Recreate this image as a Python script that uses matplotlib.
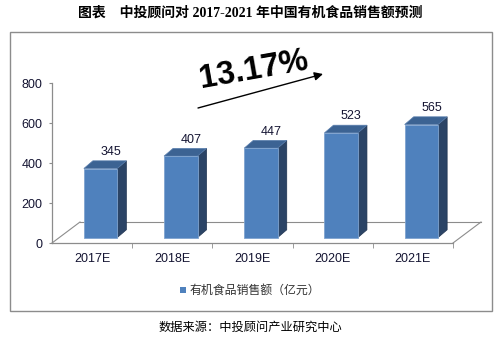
import matplotlib
matplotlib.use("Agg")
import matplotlib.pyplot as plt
from matplotlib.patches import Rectangle, Polygon, FancyArrowPatch
from matplotlib.lines import Line2D

# Data
categories = ["2017E", "2018E", "2019E", "2020E", "2021E"]
sales = [345, 407, 447, 523, 565]
yticks = [0, 200, 400, 600, 800]
growth_label = "13.17%"
series_name = "有机食品销售额（亿元）"
title = "图表\u3000中投顾问对 2017-2021 年中国有机食品销售额预测"
source = "数据来源：中投顾问产业研究中心"

W, H = 503, 345
fig = plt.figure(figsize=(W / 100, H / 100), dpi=100)
fig.patch.set_facecolor("white")


def fp(x, y):
    """Pixel position (from top-left) to figure fraction."""
    return x / W, 1 - y / H


# plot area in pixels
ax_l, ax_r, ax_t, ax_b = 52, 453, 83, 243
ax = fig.add_axes([ax_l / W, (H - ax_b) / H, (ax_r - ax_l) / W, (ax_b - ax_t) / H])
ax.set_xlim(-0.5, len(categories) - 0.5)
ax.set_ylim(0, 800)
ax.patch.set_alpha(0)

ux = len(categories) / (ax_r - ax_l)   # category units per pixel
uy = 800 / (ax_b - ax_t)               # value units per pixel

for s in ["top", "right"]:
    ax.spines[s].set_visible(False)
for s in ["left", "bottom"]:
    ax.spines[s].set_color("#8c8c8c")
    ax.spines[s].set_linewidth(0.9)

ax.set_yticks(yticks)
ax.tick_params(axis="y", length=2.5, color="#8c8c8c", pad=4.5,
               labelsize=9, labelcolor="#141432")
ax.set_xticks(range(len(categories)))
ax.set_xticklabels(categories)
ax.set_xticks([i + 0.5 for i in range(len(categories))], minor=True)
ax.tick_params(axis="x", which="major", length=0, pad=7,
               labelsize=9, labelcolor="#141432")
ax.tick_params(axis="x", which="minor", length=3.5, color="#8c8c8c")
for lab in ax.get_xticklabels() + ax.get_yticklabels():
    lab.set_fontfamily("Liberation Sans")

# floor outline
fdx, fdy = 28 * ux, 21 * uy
x0, x1 = -0.5, len(categories) - 0.5
floor_kw = dict(color="#8c8c8c", lw=0.8, clip_on=False, zorder=1)
ax.add_line(Line2D([x0 + fdx, x1 + fdx], [fdy, fdy], **floor_kw))
ax.add_line(Line2D([x0, x0 + fdx], [0, fdy], **floor_kw))
ax.add_line(Line2D([x1, x1 + fdx], [0, fdy], **floor_kw))

# 3D bars
front_c, side_c, top_c, edge_c = "#4F81BD", "#2B4466", "#3C6393", "#7FA3CF"
bw = 33.5 * ux
ox, oy = 8.5 * ux, 5.5 * uy      # front face offset into depth
ddx, ddy = 9 * ux, 7.7 * uy      # bar depth
for i, v in enumerate(sales):
    bx0 = i - bw / 2 + ox
    bx1 = bx0 + bw
    b0 = oy
    tp = oy + v
    ax.add_patch(Polygon([(bx1, b0), (bx1 + ddx, b0 + ddy), (bx1 + ddx, tp + ddy), (bx1, tp)],
                         closed=True, fc=side_c, ec="#1f3350", lw=0.5, clip_on=False, zorder=3))
    ax.add_patch(Polygon([(bx0, tp), (bx1, tp), (bx1 + ddx, tp + ddy), (bx0 + ddx, tp + ddy)],
                         closed=True, fc=top_c, ec="#5a7fae", lw=0.5, clip_on=False, zorder=3))
    ax.add_patch(Rectangle((bx0, b0), bw, v, fc=front_c, ec=edge_c, lw=0.6,
                           clip_on=False, zorder=4))
    ax.text(i + 18.5 * ux, tp + 16.5 * uy, str(v), ha="center", va="center",
            fontsize=9, family="Liberation Sans", color="#141432", zorder=5)

# border
bx, by = fp(9.5, 311)
fig.add_artist(Rectangle((bx, by), 482 / W, 279.5 / H, transform=fig.transFigure,
                         fill=False, ec="#8c8c8c", lw=1))

# title
fig.text(*fp(250, 12.5), title, ha="center", va="center", fontsize=10,
         fontweight="bold", family=["Liberation Serif", "Noto Sans CJK SC"])

# growth annotation
fig.text(*fp(254, 70), growth_label, ha="center", va="center", fontsize=23.5,
         fontweight="bold", family="Liberation Sans", rotation=10,
         rotation_mode="anchor")
fig.add_artist(FancyArrowPatch(fp(198, 108), fp(323, 74), transform=fig.transFigure,
                               arrowstyle="-|>,head_length=5,head_width=2.5",
                               color="black", lw=1, shrinkA=0, shrinkB=0))

# legend
sx, sy = fp(179.5, 293)
fig.add_artist(Rectangle((sx, sy), 6 / W, 6 / H, transform=fig.transFigure,
                         fc=front_c, ec="none"))
fig.text(*fp(190, 290), series_name, ha="left", va="center", fontsize=8.6,
         family=["Noto Sans CJK SC", "DejaVu Sans"], color="#333333")

# source note
fig.text(*fp(250.5, 327), source, ha="center", va="center", fontsize=8.8,
         family=["Noto Sans CJK SC", "DejaVu Sans"], color="black")

fig.savefig("out.png", dpi=100, facecolor="white")
